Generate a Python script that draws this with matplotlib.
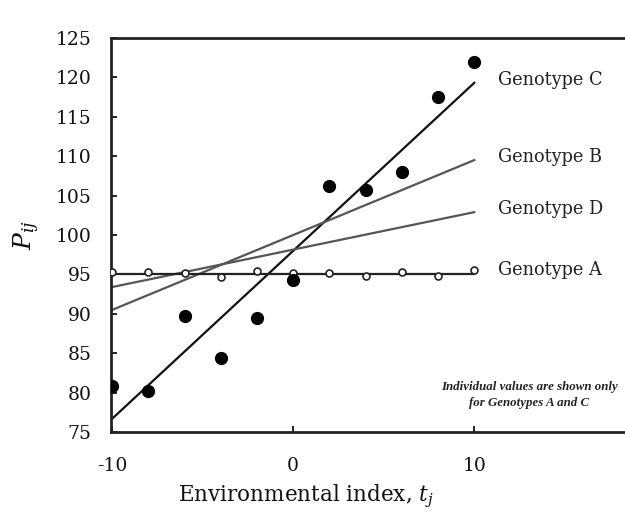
import numpy as np
import matplotlib
matplotlib.use('Agg')
import matplotlib.pyplot as plt

# environmental index values for each trial
env_index = [-10, -8, -6, -4, -2, 0, 2, 4, 6, 8, 10]

# observed values, genotypes A and C
geno_a = [95.3, 95.3, 95.2, 94.7, 95.4, 95.2, 95.2, 94.8, 95.3, 94.8, 95.5]
geno_c = [80.8, 80.2, 89.7, 84.4, 89.5, 94.3, 106.2, 105.7, 108.0, 117.5, 122.0]

# fitted regression lines (intercept, slope)
genotypes = ['Genotype C', 'Genotype B', 'Genotype D', 'Genotype A']
intercepts = [98.0, 100.0, 98.15, 95.1]
slopes = [2.13, 0.95, 0.475, 0.0]
line_colors = ['#111111', '#555555', '#555555', '#222222']

plt.rcParams['font.family'] = ['DejaVu Serif']
plt.rcParams['mathtext.fontset'] = 'dejavuserif'
plt.rcParams['axes.unicode_minus'] = False

fig = plt.figure(figsize=(6.25, 5.12), dpi=100)
ax = fig.add_axes([0.178, 0.156, 0.83, 0.77])

x_fit = np.array([-10, 10])
for name, b0, b1, col in zip(genotypes, intercepts, slopes, line_colors):
    y_fit = b0 + b1 * x_fit
    ax.plot(x_fit, y_fit, color=col, lw=1.6, zorder=2)
    ax.text(11.3, y_fit[-1] + 0.4, name, fontsize=12.8, va='center', ha='left', color='#222222')

ax.plot(env_index, geno_a, 'o', ms=5, mfc='white', mec='#222222', mew=1.2, zorder=3)
ax.plot(env_index, geno_c, 'o', ms=8.5, color='black', zorder=3)

ax.text(13.05, 79.7, 'Individual values are shown only\nfor Genotypes A and C',
        fontsize=9.3, style='italic', weight='bold', family='Liberation Serif',
        ha='center', va='center', color='#222222', linespacing=1.45)

ax.set_xlim(-10.05, 18.6)
ax.set_ylim(75, 125)
ax.set_xticks([-10, 0, 10])
ax.set_yticks(np.arange(75, 126, 5))
ax.tick_params(direction='in', length=4, width=1.3, labelsize=13.5, colors='#111111')
ax.tick_params(axis='y', pad=14)
ax.tick_params(axis='x', pad=18)

for s in ['left', 'top', 'bottom']:
    ax.spines[s].set_linewidth(2)
    ax.spines[s].set_color('#222222')
ax.spines['right'].set_visible(False)

ax.set_xlabel(r'Environmental index, $t_j$', fontsize=15.5, color='#111111')
ax.xaxis.set_label_coords(0.376, -0.128)
ax.set_ylabel(r'$P_{ij}$', fontsize=18, color='#111111', labelpad=10)

plt.savefig('out.png', dpi=100)
